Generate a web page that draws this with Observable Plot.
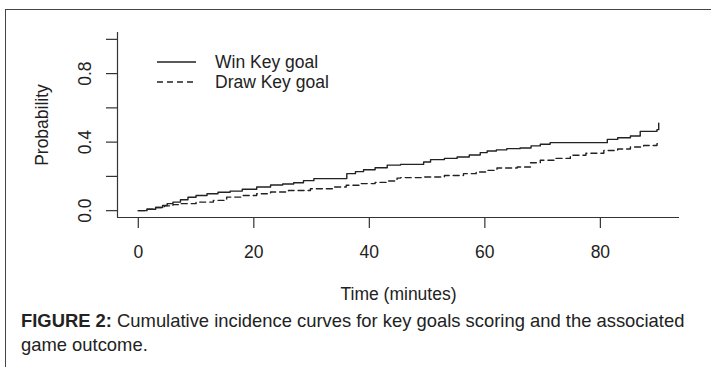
<!DOCTYPE html>
<html><head><meta charset="utf-8">
<script src="https://cdn.jsdelivr.net/npm/d3@7"></script>
<script src="https://cdn.jsdelivr.net/npm/@observablehq/plot@0.6"></script>
<style>
html,body{margin:0;padding:0;background:#fff;}
body{font-family:"Liberation Sans",Arial,Helvetica,sans-serif;color:#222;width:711px;height:367px;overflow:hidden;position:relative;}
#frame{position:absolute;left:5px;top:9px;width:706px;height:358px;border-left:1px solid #444;border-top:1px solid #444;}
#chart{position:absolute;left:0;top:0;}
.leg{position:absolute;left:151px;height:20px;line-height:20px;font-size:17.5px;white-space:nowrap;}
.leg svg{position:absolute;left:0;top:0;}
.leg span{position:absolute;left:58px;top:0;}
#caption{position:absolute;left:15px;top:299px;font-size:18.4px;line-height:23.5px;white-space:nowrap;color:#222;}
#caption b{font-weight:bold;}
</style>
</head><body>
<div id="frame">
  <div id="chart"></div>
  <div class="leg" style="top:42px"><svg width="40" height="20"><line x1="0" x2="39" y1="10" y2="10" stroke="#222" stroke-width="1.4"/></svg><span>Win Key goal</span></div>
  <div class="leg" style="top:62px"><svg width="40" height="20"><line x1="0" x2="39" y1="10" y2="10" stroke="#222" stroke-width="1.4" stroke-dasharray="6,4"/></svg><span>Draw Key goal</span></div>
  <div id="caption"><b>FIGURE 2:</b> Cumulative incidence curves for key goals scoring and the associated<br>game outcome.</div>
</div>
<script>
const winTime = [0, 1.5, 3, 4.2, 5, 6, 7.3, 8.6, 10, 11.9, 13.8, 15.9, 18, 20.5, 22.9, 25, 26.9, 28.6, 30.4, 36.1, 37.6, 39, 41, 43.1, 45.4, 49.4, 50.6, 53, 55.2, 57.3, 59.2, 60.4, 62, 63.8, 66.1, 68, 69.6, 71.3, 81.2, 83, 85.2, 86.9, 89.8, 90.1];
const winProb = [0, 0.008, 0.018, 0.03, 0.041, 0.05, 0.064, 0.078, 0.088, 0.099, 0.107, 0.114, 0.125, 0.138, 0.150, 0.156, 0.163, 0.175, 0.187, 0.216, 0.228, 0.239, 0.25, 0.266, 0.270, 0.284, 0.298, 0.305, 0.313, 0.325, 0.339, 0.348, 0.355, 0.362, 0.366, 0.378, 0.388, 0.397, 0.416, 0.426, 0.436, 0.463, 0.473, 0.511];
const drawTime = [0, 1.5, 3, 4.5, 6, 7.3, 10, 13, 15.3, 18, 20.5, 22.9, 26, 29.8, 33.8, 36, 38.4, 41, 43.1, 44.8, 45.4, 49.4, 53, 56.3, 58.5, 60.4, 62.1, 65.6, 67.9, 69.6, 72, 74.8, 77.5, 80.6, 83, 85.2, 87.5, 89.8, 90.1];
const drawProb = [0, 0.008, 0.018, 0.028, 0.035, 0.041, 0.05, 0.06, 0.079, 0.088, 0.099, 0.109, 0.118, 0.128, 0.138, 0.148, 0.158, 0.165, 0.173, 0.19, 0.193, 0.196, 0.205, 0.216, 0.226, 0.235, 0.249, 0.255, 0.28, 0.294, 0.305, 0.323, 0.335, 0.351, 0.36, 0.372, 0.38, 0.391, 0.406];
const xTicks = [0, 20, 40, 60, 80];
const yTicks = [0, 0.2, 0.4, 0.6, 0.8, 1.0];
const yLabelTicks = [0, 0.4, 0.8];
const xTitle = "Time (minutes)";
const yTitle = "Probability";

const win = winTime.map((t, i) => ({t, p: winProb[i]}));
const draw = drawTime.map((t, i) => ({t, p: drawProb[i]}));

const fs = 17.5;
const chart = Plot.plot({
  width: 705, height: 300,
  marginLeft: 111, marginRight: 32, marginTop: 22, marginBottom: 93,
  style: {fontFamily: '"Liberation Sans", Arial, sans-serif', fontSize: fs + "px", color: "#222", background: "transparent"},
  x: {domain: [-3.6, 93.7]},
  y: {domain: [-0.04, 1.04]},
  marks: [
    Plot.ruleY([-0.04], {stroke: "#333", strokeWidth: 1.2}),
    Plot.ruleX([-3.6], {stroke: "#333", strokeWidth: 1.2}),
    Plot.axisX(xTicks, {tickSize: 11, tickPadding: 17, fontSize: fs, label: null, stroke: "#333", strokeWidth: 1.2}),
    Plot.axisY(yTicks, {tickSize: 11, tickFormat: () => "", label: null, stroke: "#333", strokeWidth: 1.2}),
    Plot.text(yLabelTicks, {y: d => d, text: d => d.toFixed(1), frameAnchor: "left", textAnchor: "middle", dx: -32, rotate: -90, fontSize: fs, fill: "#222"}),
    Plot.text([yTitle], {text: d => d, frameAnchor: "left", textAnchor: "middle", dx: -75, rotate: -90, fontSize: fs, fill: "#222"}),
    Plot.text([xTitle], {text: d => d, frameAnchor: "bottom", dy: 82, fontSize: fs, fill: "#222"}),
    Plot.line(win, {x: "t", y: "p", curve: "step-after", stroke: "#222", strokeWidth: 1.4}),
    Plot.line(draw, {x: "t", y: "p", curve: "step-after", stroke: "#222", strokeWidth: 1.4, strokeDasharray: "6,4"})
  ]
});
document.getElementById("chart").appendChild(chart);
</script>
</body></html>
